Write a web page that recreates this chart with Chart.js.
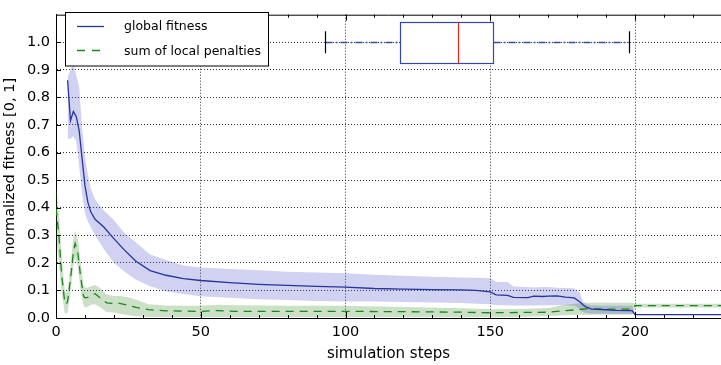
<!DOCTYPE html>
<html>
<head>
<meta charset="utf-8">
<script src="https://cdn.jsdelivr.net/npm/chart.js"></script>
<style>
    html, body { margin: 0; padding: 0; background: #fff; }
    canvas { display: block; }
</style>
</head>
<body>
<canvas id="chart" width="721" height="365"></canvas>
<script>
// --- global fitness (mean + spread) ---
const fitnessSteps = [4, 5, 6, 7, 8, 9, 10, 11, 12,
    13.5, 16.5, 20, 23.5, 27.5, 32.5, 38, 44, 50,
    60, 70, 80, 90, 100, 110, 120, 130, 140, 145, 150,
    152, 156, 158, 163, 165, 168, 170, 173, 176, 179, 181, 182, 183, 185, 190, 193, 199, 200, 231];
const fitness = [0.862, 0.716, 0.749, 0.730, 0.680, 0.580, 0.480, 0.420, 0.385,
    0.358, 0.330, 0.288, 0.248, 0.207, 0.172, 0.155, 0.143, 0.136,
    0.128, 0.122, 0.118, 0.115, 0.112, 0.107, 0.105, 0.103, 0.102, 0.100, 0.095,
    0.084, 0.082, 0.075, 0.074, 0.079, 0.078, 0.079, 0.080, 0.076, 0.073, 0.058, 0.048, 0.040, 0.032, 0.030, 0.028, 0.027, 0.012, 0.012];
const fitnessHi = [0.87, 0.90, 0.92, 0.88, 0.84, 0.69, 0.586, 0.52, 0.47,
    0.43, 0.39, 0.355, 0.31, 0.275, 0.23, 0.21, 0.19, 0.183,
    0.178, 0.173, 0.168, 0.165, 0.162, 0.157, 0.153, 0.150, 0.147, 0.146, 0.144,
    0.131, 0.131, 0.114, 0.112, 0.111, 0.112, 0.112, 0.110, 0.109, 0.108, 0.092, 0.060, 0.050, 0.045, 0.044, 0.044, 0.044, 0.013, 0.013];
const fitnessLo = [0.65, 0.65, 0.66, 0.64, 0.55, 0.45, 0.38, 0.35, 0.33,
    0.30, 0.25, 0.20, 0.17, 0.14, 0.115, 0.097, 0.087, 0.079,
    0.073, 0.068, 0.065, 0.062, 0.060, 0.060, 0.058, 0.056, 0.054, 0.052, 0.050,
    0.047, 0.046, 0.045, 0.045, 0.045, 0.046, 0.046, 0.046, 0.046, 0.045, 0.032, 0.022, 0.018, 0.016, 0.015, 0.015, 0.015, 0.011, 0.011];

// --- sum of local penalties (mean + spread) ---
const penaltySteps = [0, 1, 2, 3, 3.5, 4, 5, 6, 6.6, 7.5,
    8.5, 9.5, 10, 11, 12, 13.5, 15, 17.5, 20, 22,
    25, 28, 32, 38, 44, 50, 56, 62, 80, 100,
    120, 140, 150, 160, 170, 176, 180, 183, 199, 200, 231];
const penalty = [0.40, 0.30, 0.15, 0.06, 0.05, 0.06, 0.14, 0.24, 0.27, 0.24,
    0.15, 0.08, 0.073, 0.075, 0.082, 0.088, 0.075, 0.055, 0.053, 0.053,
    0.046, 0.038, 0.030, 0.026, 0.025, 0.024, 0.027, 0.024, 0.024, 0.024,
    0.023, 0.021, 0.019, 0.020, 0.021, 0.027, 0.030, 0.033, 0.032, 0.045, 0.045];
const penaltyHi = [0.49, 0.38, 0.22, 0.10, 0.09, 0.10, 0.19, 0.29, 0.315, 0.29,
    0.20, 0.12, 0.11, 0.11, 0.115, 0.12, 0.11, 0.085, 0.08, 0.08,
    0.075, 0.065, 0.05, 0.045, 0.044, 0.044, 0.048, 0.046, 0.044, 0.044,
    0.040, 0.035, 0.032, 0.033, 0.036, 0.048, 0.053, 0.055, 0.055, 0.052, 0.052];
const penaltyLo = [0.30, 0.20, 0.09, 0.02, 0.015, 0.02, 0.09, 0.19, 0.22, 0.19,
    0.10, 0.045, 0.038, 0.04, 0.048, 0.05, 0.04, 0.022, 0.02, 0.015,
    0.01, 0.006, 0.004, 0.003, 0.003, 0.003, 0.003, 0.003, 0.003, 0.003,
    0.003, 0.003, 0.003, 0.004, 0.007, 0.01, 0.012, 0.012, 0.012, 0.038, 0.038];

// --- box plot of convergence step, drawn at y = 1.0 ---
const boxWhiskers = [92.9, 197.9];
const boxQuartiles = [118.8, 151.1];
const boxMedian = 139.0;
const boxLevel = 1.0;

// --- axes ---
const xMinorTicks = [0, 10, 20, 30, 40, 50, 60, 70, 80, 90, 100, 110, 120, 130, 140, 150, 160, 170, 180, 190, 200, 210, 220];
const yTicks = [0, 0.1, 0.2, 0.3, 0.4, 0.5, 0.6, 0.7, 0.8, 0.9, 1.0];

const legendItems = ["global fitness", "sum of local penalties"];

const BLUE = "#24359e";
const GREEN = "#168a16";
const FONT = "'DejaVu Sans', sans-serif";

const pts = (xs, ys) => xs.map((x, i) => ({ x: x, y: ys[i] }));

const spinesPlugin = {
    id: "spines",
    afterDatasetsDraw(chart) {
        const { ctx, chartArea: a, scales: { x, y } } = chart;
        ctx.save();
        ctx.strokeStyle = "#000";
        ctx.lineWidth = 1;
        ctx.beginPath();
        ctx.moveTo(a.left, a.top + 0.5);
        ctx.lineTo(a.right, a.top + 0.5);
        xMinorTicks.forEach((s) => {
            const px = Math.round(x.getPixelForValue(s)) + 0.5;
            const len = s % 50 === 0 ? 6 : 3;
            ctx.moveTo(px, a.bottom);
            ctx.lineTo(px, a.bottom - len);
            ctx.moveTo(px, a.top);
            ctx.lineTo(px, a.top + len);
        });
        yTicks.forEach((v) => {
            const py = Math.round(y.getPixelForValue(v)) + 0.5;
            ctx.moveTo(a.left, py);
            ctx.lineTo(a.left + 5, py);
        });
        ctx.stroke();
        ctx.restore();
    },
};

const boxPlugin = {
    id: "boxplot",
    afterDatasetsDraw(chart) {
        const { ctx, scales: { x, y } } = chart;
        const yc = Math.round(y.getPixelForValue(boxLevel)) + 0.5;
        const yTop = Math.round(y.getPixelForValue(boxLevel + 0.075)) + 0.5;
        const yBot = Math.round(y.getPixelForValue(boxLevel - 0.075)) + 0.5;
        const capTop = y.getPixelForValue(boxLevel + 0.04);
        const capBot = y.getPixelForValue(boxLevel - 0.04);
        const wLo = Math.round(x.getPixelForValue(boxWhiskers[0])) + 0.5;
        const wHi = Math.round(x.getPixelForValue(boxWhiskers[1])) + 0.5;
        const q1 = Math.round(x.getPixelForValue(boxQuartiles[0])) + 0.5;
        const q3 = Math.round(x.getPixelForValue(boxQuartiles[1])) + 0.5;
        const med = Math.round(x.getPixelForValue(boxMedian)) + 0.5;
        ctx.save();
        // whiskers (dash-dot)
        ctx.strokeStyle = "#3a4aa8";
        ctx.lineWidth = 1.3;
        ctx.setLineDash([7, 3, 2, 3]);
        ctx.beginPath();
        ctx.moveTo(wLo, yc); ctx.lineTo(q1, yc);
        ctx.moveTo(q3, yc); ctx.lineTo(wHi, yc);
        ctx.stroke();
        ctx.setLineDash([]);
        // caps
        ctx.lineWidth = 1.2;
        ctx.strokeStyle = "#000";
        ctx.beginPath();
        ctx.moveTo(wLo, capTop); ctx.lineTo(wLo, capBot);
        ctx.moveTo(wHi, capTop); ctx.lineTo(wHi, capBot);
        ctx.stroke();
        // box
        ctx.lineWidth = 1.2;
        ctx.fillStyle = "#fff";
        ctx.fillRect(q1, yTop, q3 - q1, yBot - yTop);
        ctx.strokeStyle = "#3446b0";
        ctx.strokeRect(q1, yTop, q3 - q1, yBot - yTop);
        // median
        ctx.strokeStyle = "#e8231e";
        ctx.beginPath();
        ctx.moveTo(med, yTop); ctx.lineTo(med, yBot);
        ctx.stroke();
        ctx.restore();
    },
};

const legendPlugin = {
    id: "boxLegend",
    afterDatasetsDraw(chart) {
        const { ctx } = chart;
        ctx.save();
        ctx.fillStyle = "#fff";
        ctx.fillRect(65.5, 12.5, 203, 53.5);
        ctx.strokeStyle = "#000";
        ctx.lineWidth = 1;
        ctx.strokeRect(65.5, 12.5, 203, 53.5);
        ctx.lineWidth = 1.3;
        ctx.strokeStyle = BLUE;
        ctx.beginPath();
        ctx.moveTo(77, 26.5); ctx.lineTo(104, 26.5);
        ctx.stroke();
        ctx.strokeStyle = GREEN;
        ctx.setLineDash([8, 7]);
        ctx.beginPath();
        ctx.moveTo(77, 50.5); ctx.lineTo(104, 50.5);
        ctx.stroke();
        ctx.setLineDash([]);
        ctx.fillStyle = "#000";
        ctx.font = "12.5px " + FONT;
        ctx.textBaseline = "middle";
        ctx.fillText(legendItems[0], 124, 27);
        ctx.fillText(legendItems[1], 124, 52);
        ctx.restore();
    },
};

const gridDots = "rgba(0, 0, 0, 0.8)";

new Chart(document.getElementById("chart"), {
    type: "line",
    data: {
        datasets: [
            {
                label: legendItems[0],
                data: pts(fitnessSteps, fitness),
                borderColor: BLUE,
                borderWidth: 1.3,
                pointRadius: 0,
                tension: 0,
                fill: false,
                order: 0,
            },
            {
                label: legendItems[1],
                data: pts(penaltySteps, penalty),
                borderColor: GREEN,
                borderWidth: 1.3,
                borderDash: [8, 6],
                pointRadius: 0,
                tension: 0,
                fill: false,
                order: 1,
            },
            {
                label: "fitness upper",
                data: pts(fitnessSteps, fitnessHi),
                borderWidth: 0,
                pointRadius: 0,
                backgroundColor: "rgba(70, 70, 200, 0.25)",
                fill: "+1",
                order: 2,
            },
            {
                label: "fitness lower",
                data: pts(fitnessSteps, fitnessLo),
                borderWidth: 0,
                pointRadius: 0,
                fill: false,
                order: 3,
            },
            {
                label: "penalty upper",
                data: pts(penaltySteps, penaltyHi),
                borderWidth: 0,
                pointRadius: 0,
                backgroundColor: "rgba(40, 120, 20, 0.24)",
                fill: "+1",
                order: 4,
            },
            {
                label: "penalty lower",
                data: pts(penaltySteps, penaltyLo),
                borderWidth: 0,
                pointRadius: 0,
                fill: false,
                order: 5,
            },
        ],
    },
    options: {
        responsive: false,
        animation: false,
        events: [],
        layout: { padding: { top: 3, right: 0, left: 0, bottom: 0 } },
        plugins: {
            legend: { display: false },
            tooltip: { enabled: false },
        },
        scales: {
            x: {
                type: "linear",
                min: 0,
                max: 229.7,
                afterFit: (s) => { s.height = 47; },
                ticks: {
                    stepSize: 50,
                    includeBounds: false,
                    padding: 6,
                    color: "#000",
                    font: { family: FONT, size: 14.5 },
                    maxRotation: 0,
                },
                grid: {
                    drawTicks: false,
                    lineWidth: 1,
                    color: (c) => (c.tick && c.tick.value > 0 ? gridDots : "transparent"),
                },
                border: { display: true, color: "#000", width: 1, dash: [1, 2] },
                title: {
                    display: true,
                    text: "simulation steps",
                    color: "#000",
                    font: { family: FONT, size: 15 },
                    padding: { top: 0, bottom: 2 },
                },
            },
            y: {
                min: 0,
                max: 1.1,
                afterFit: (s) => { s.width = 56; },
                afterBuildTicks: (s) => { s.ticks = s.ticks.filter((t) => t.value < 1.05); },
                ticks: {
                    stepSize: 0.1,
                    padding: 6,
                    color: "#000",
                    font: { family: FONT, size: 14.5 },
                    callback: (v) => Number(v).toFixed(1),
                },
                grid: {
                    drawTicks: false,
                    lineWidth: 1,
                    color: (c) => (c.tick && c.tick.value > 0.05 ? gridDots : "transparent"),
                },
                border: { display: true, color: "#000", width: 1, dash: [1, 2] },
                title: {
                    display: true,
                    text: "normalized fitness [0, 1]",
                    color: "#000",
                    font: { family: FONT, size: 14.5 },
                    padding: { top: 2, bottom: 0 },
                },
            },
        },
    },
    plugins: [spinesPlugin, boxPlugin, legendPlugin],
});
</script>
</body>
</html>
